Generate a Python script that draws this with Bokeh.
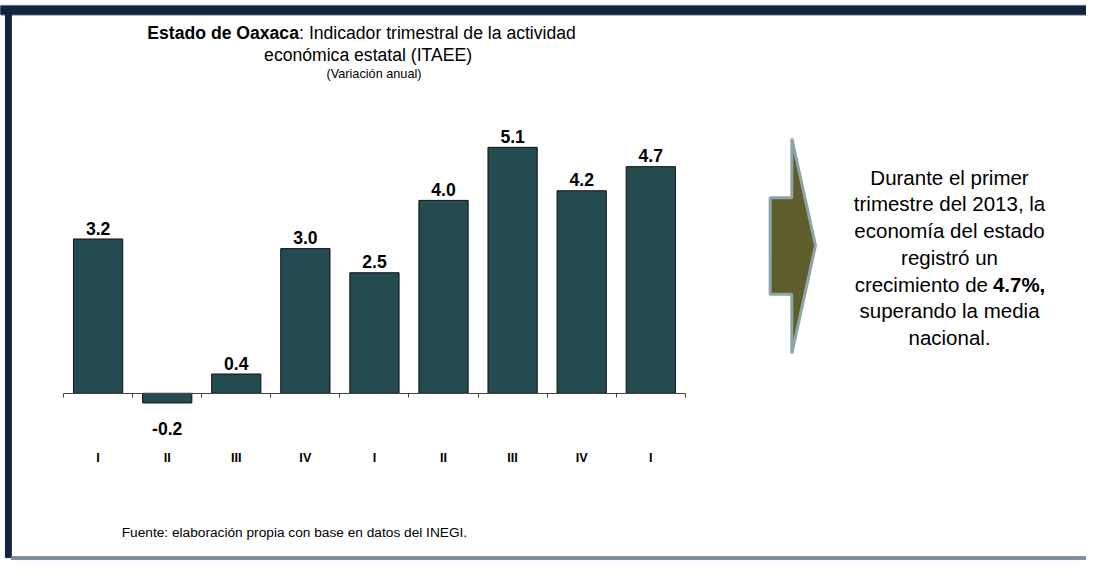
from bokeh.plotting import figure
from bokeh.models import Range1d, FixedTicker, ColumnDataSource
from bokeh.core.properties import value
from bokeh.embed import file_html
from bokeh.resources import INLINE

# ---------------- data ----------------
quarters = ["I", "II", "III", "IV", "I", "II", "III", "IV", "I"]
growth = [3.2, -0.2, 0.4, 3.0, 2.5, 4.0, 5.1, 4.2, 4.7]

title_bold = "Estado de Oaxaca"
title_rest = ": Indicador trimestral de la actividad"
title_line2 = "económica estatal (ITAEE)"
subtitle = "(Variación anual)"
note_lines = ["Durante el primer", "trimestre del 2013, la", "economía del estado",
              "registró un", "crecimiento de", "superando la media", "nacional."]
note_bold = "4.7%,"
source_text = "Fuente: elaboración propia con base en datos del INEGI."

# ---------------- layout helpers (reference pixels -> data) ----------------
W, H = 1086, 561          # figure size
RW, RH = 1102, 577        # reference picture size
K = 0.978                 # overall shrink factor reference -> figure
AX0 = 64.0     # reference x where the category axis starts
STEP = 70.1    # reference px per category
ZERO = 404.0   # reference y of the zero line
UNIT = 49.6    # reference px per percentage point


def dx(rx):
    return 0.5 + (rx - AX0) / STEP


def dy(ry):
    return (ZERO - ry) / UNIT


def fs(px):
    return f"{px * K:.1f}px"


FONT = value("Liberation Sans")
NAVY = "#10243e"
EDGE = "#6f7d8c"
BAR = "#244b50"
OLIVE = "#5e5e2c"

xs = list(range(1, len(growth) + 1))
src = ColumnDataSource(dict(x=xs, top=growth))
pos = ColumnDataSource(dict(x=[x for x, v in zip(xs, growth) if v >= 0],
                            y=[v for v in growth if v >= 0],
                            lab=[f"{v:.1f}" for v in growth if v >= 0]))
neg = ColumnDataSource(dict(x=[x for x, v in zip(xs, growth) if v < 0],
                            y=[v for v in growth if v < 0],
                            lab=[f"{v:.1f}" for v in growth if v < 0]))

p = figure(width=W, height=H,
           x_range=Range1d(dx(0), dx(RW)),
           y_range=Range1d(dy(RH), dy(0)),
           min_border=0, toolbar_location=None, output_backend="svg")
p.outline_line_color = None
p.xgrid.visible = False
p.ygrid.visible = False
p.yaxis.visible = False
p.background_fill_color = "white"
p.border_fill_color = "white"

# frame decorations
p.quad(left=dx(0), right=dx(RW), top=dy(5), bottom=dy(15), color=EDGE)
p.quad(left=dx(0), right=dx(RW), top=dy(6), bottom=dy(14), color=NAVY)
p.quad(left=dx(5), right=dx(11), top=dy(14), bottom=dy(573), color=NAVY)
p.quad(left=dx(11), right=dx(RW), top=dy(572), bottom=dy(575), color="#7d8b9b")

# bars
p.vbar(x="x", top="top", bottom=0, width=0.713, source=src,
       fill_color=BAR, line_color="#111111", line_width=1)

# axis
ax = p.xaxis[0]
ax.fixed_location = 0
ax.bounds = (0.5, len(growth) + 0.5)
ax.ticker = FixedTicker(ticks=xs, minor_ticks=[i + 0.5 for i in range(len(growth) + 1)])
ax.major_label_overrides = {x: q for x, q in zip(xs, quarters)}
ax.axis_line_color = "#444444"
ax.axis_line_width = 1
ax.major_tick_line_color = None
ax.major_tick_out = 0
ax.major_tick_in = 0
ax.minor_tick_line_color = "#444444"
ax.minor_tick_out = 4
ax.minor_tick_in = 0
ax.major_label_standoff = 54
ax.major_label_text_font = "Liberation Sans"
ax.major_label_text_font_style = "bold"
ax.major_label_text_font_size = fs(13)
ax.major_label_text_color = "black"

# value labels
p.text(x="x", y="y", text="lab", source=pos, y_offset=-11 * K,
       text_align="center", text_baseline="alphabetic",
       text_font=FONT, text_font_style="bold", text_font_size=fs(18), text_color="black")
p.text(x="x", y="y", text="lab", source=neg, y_offset=26 * K,
       text_align="center", text_baseline="alphabetic",
       text_font=FONT, text_font_style="bold", text_font_size=fs(18), text_color="black")

# title
p.text(x=[dx(149)], y=[dy(33)], text=[title_bold], text_align="left", text_baseline="alphabetic",
       text_font=FONT, text_font_style="bold", text_font_size=fs(18), text_color="black")
p.text(x=[dx(303)], y=[dy(33)], text=[title_rest], text_align="left", text_baseline="alphabetic",
       text_font=FONT, text_font_size=fs(18), text_color="black")
p.text(x=[dx(373)], y=[dy(56)], text=[title_line2], text_align="center", text_baseline="alphabetic",
       text_font=FONT, text_font_size=fs(18), text_color="black")
p.text(x=[dx(379)], y=[dy(76)], text=[subtitle], text_align="center", text_baseline="alphabetic",
       text_font=FONT, text_font_size=fs(13), text_color="black")

# arrow
p.patch(x=[dx(803), dx(827), dx(803), dx(803), dx(781), dx(781), dx(803)],
        y=[dy(142), dy(252), dy(363), dy(302), dy(302), dy(203), dy(203)],
        fill_color=OLIVE, line_color="#8ea4a7", line_width=3)

# note text
base0, lead = 181.7, 27.5
for i, line in enumerate(note_lines):
    yb = dy(base0 + i * lead)
    if i == 4:
        p.text(x=[dx(1002)], y=[yb], text=[line], text_align="right", text_baseline="alphabetic",
               text_font=FONT, text_font_size=fs(21), text_color="black")
        p.text(x=[dx(1007)], y=[yb], text=[note_bold], text_align="left", text_baseline="alphabetic",
               text_font=FONT, text_font_style="bold", text_font_size=fs(21), text_color="black")
    else:
        p.text(x=[dx(963)], y=[yb], text=[line], text_align="center", text_baseline="alphabetic",
               text_font=FONT, text_font_size=fs(21), text_color="black")

# source
p.text(x=[dx(123)], y=[dy(547)], text=[source_text], text_align="left", text_baseline="alphabetic",
       text_font=FONT, text_font_size=fs(14), text_color="black")

open("out.html", "w").write(file_html(p, INLINE))
